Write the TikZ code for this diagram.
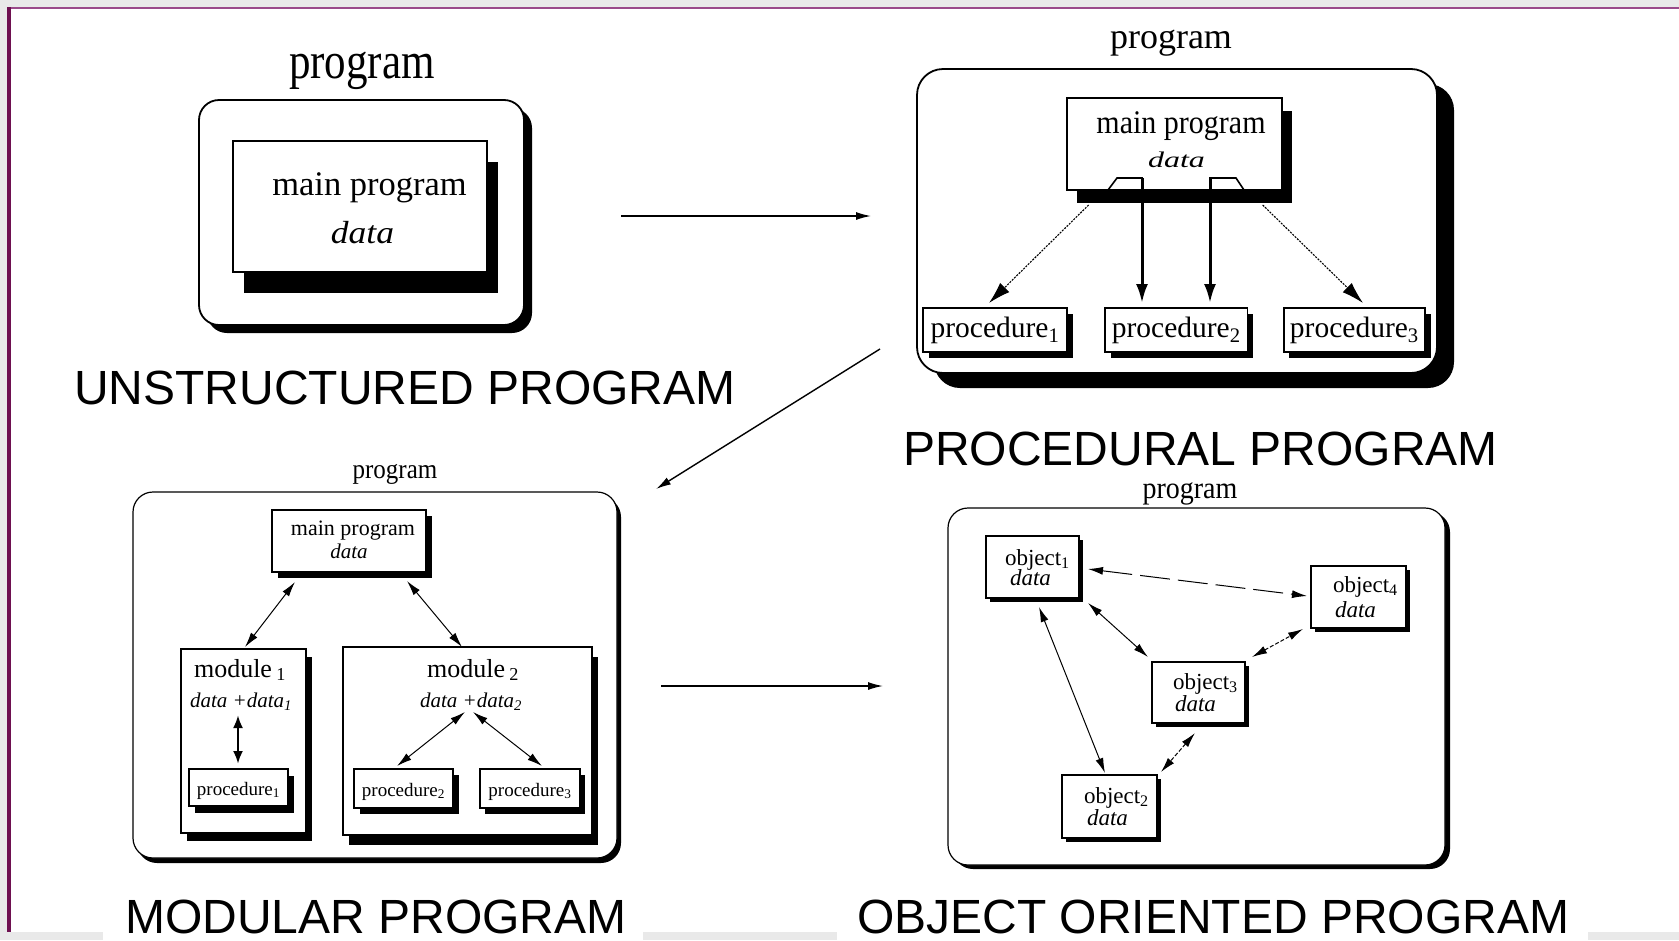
\documentclass[tikz,border=0pt]{standalone}
\usepackage{fontspec}
\setmainfont{Liberation Serif}
\newfontfamily\labelfont{Liberation Sans}
\usetikzlibrary{arrows.meta,shadows}
\newcommand\vst[2]{\scalebox{1}[#1]{#2}}
\definecolor{bggray}{HTML}{E9E9E9}
\definecolor{toppurple}{HTML}{9A4A8A}
\definecolor{leftpurple}{HTML}{6E1050}
\begin{document}
\begin{tikzpicture}[x=1pt,y=-1pt,
  box/.style={draw=black, fill=white, line width=1.8pt, inner sep=0pt, outer sep=0pt},
  thinbox/.style={box, line width=1.2pt},
  shad/.style 2 args={drop shadow={shadow xshift=#1pt, shadow yshift=-#2pt, fill=black, opacity=1}},
  fs/.style={font=\fontsize{#1}{#1}\selectfont},
  txt/.style={inner sep=0pt, outer sep=0pt, anchor=base},
  txtl/.style={inner sep=0pt, outer sep=0pt, anchor=base west},
  big/.style={font=\labelfont\fontsize{48}{48}\selectfont, inner sep=0pt, anchor=base west},
  link/.style={line width=1.4pt, -{Latex[length=15pt,width=8pt]}},
  diag/.style={line width=1.1pt, dash pattern=on 2pt off 1.2pt, -{Latex[length=22pt,width=13pt]}},
  vert/.style={line width=3pt, -{Latex[length=19pt,width=12pt]}},
  dbl/.style={line width=1pt, {Latex[length=15pt,width=8pt]}-{Latex[length=15pt,width=8pt]}},
  dbldash/.style={dbl, dash pattern=on 4pt off 2pt},
  dbllong/.style={dbl, dash pattern=on 30pt off 8pt},
  thickdbl/.style={line width=2.6pt, {Latex[length=13pt,width=10pt]}-{Latex[length=13pt,width=10pt]}},
]
% ---------- page frame ----------
\useasboundingbox (0,0) rectangle (1679,940);
\fill[bggray] (0,0) rectangle (1679,940);
\fill[white] (11,9) rectangle (1679,932);
\fill[white] (103,932) rectangle (643,940);
\fill[white] (837,932) rectangle (1588,940);
\fill[toppurple] (7,7) rectangle (1679,9);
\fill[leftpurple] (7,7) rectangle (11,932);

% ---------- panel 1: unstructured ----------
\node[box, rounded corners=20pt, minimum width=325pt, minimum height=225pt, shad={8}{8}] (p1out) at (361.5,212.5) {};
\node[box, minimum width=254pt, minimum height=131pt, shad={11}{21}] (p1main) at (360,206.5) {};
\node[txt, fs=43] (p1prog) at (362,78) {\vst{1.2}{program}};
\node[txt, fs=34.5] (p1mt) at (369.5,195) {main program};
\node[txt, fs=35.5] (p1dt) at (362.5,243) {\vst{0.9}{\itshape data}};
\node[big] (lab1) at (74,404) {UNSTRUCTURED PROGRAM};

% ---------- panel 2: procedural ----------
\node[box, rounded corners=26pt, minimum width=520pt, minimum height=304pt, shad={17}{15}] (p2out) at (1177,221) {};
\node[box, minimum width=215pt, minimum height=92pt, shad={10}{13}] (p2main) at (1174.5,144) {};
\draw[line width=1.6pt] (1108,190) -- (1117,178) -- (1142,178) -- (1142,190);
\draw[line width=1.6pt] (1210,190) -- (1210,178) -- (1236,178) -- (1244,190);
\node[box, minimum width=144pt, minimum height=44pt, shad={5.5}{6}] (p2pr1) at (995,330) {};
\node[box, minimum width=142.4pt, minimum height=44pt, shad={5.5}{6}] (p2pr2) at (1176.2,330) {};
\node[box, minimum width=141.3pt, minimum height=44pt, shad={5.5}{6}] (p2pr3) at (1354.35,330) {};
\node[txt, fs=36] (p2prog) at (1171,48) {program};
\node[txt, fs=30] (p2mt) at (1181,133) {\vst{1.1}{main program}};
\node[txt, fs=32] (p2dt) at (1176.5,167) {\vst{0.7}{\itshape data}};
\node[txt, fs=29.5] (p2pt1) at (995,337) {procedure\textsubscript{1}};
\node[txt, fs=29.5] (p2pt2) at (1176.2,337) {procedure\textsubscript{2}};
\node[txt, fs=29.5] (p2pt3) at (1354.35,337) {procedure\textsubscript{3}};
\coordinate (d1s) at (1088.6,205); \coordinate (d1e) at (989,303);
\coordinate (d2s) at (1262.7,205); \coordinate (d2e) at (1363,303);
\coordinate (v1s) at (1142,178); \coordinate (v1e) at (1142,303);
\coordinate (v2s) at (1210,178); \coordinate (v2e) at (1210,303);
\draw[diag] (d1s) -- (d1e);
\draw[diag] (d2s) -- (d2e);
\draw[vert] (v1s) -- (v1e);
\draw[vert] (v2s) -- (v2e);
\node[big] (lab2) at (903,465) {PROCEDURAL PROGRAM};

% ---------- panel 3: modular ----------
\node[thinbox, rounded corners=20pt, minimum width=484pt, minimum height=366pt, shad={4}{5}] (p3out) at (375,675) {};
\node[thinbox, minimum width=154pt, minimum height=62pt, shad={6}{6}] (p3main) at (349,541) {};
\node[thinbox, minimum width=125pt, minimum height=184pt, shad={6}{8}] (mod1) at (243.5,741) {};
\node[thinbox, minimum width=249pt, minimum height=188pt, shad={6}{10}] (mod2) at (467.5,741) {};
\node[thinbox, minimum width=99pt, minimum height=37pt, shad={6}{7}] (p3pr1) at (238.5,787.5) {};
\node[thinbox, minimum width=99pt, minimum height=39pt, shad={6}{6}] (p3pr2) at (403.5,788.5) {};
\node[thinbox, minimum width=100pt, minimum height=39pt, shad={5}{6}] (p3pr3) at (530,788.5) {};
\node[txt, fs=25] (p3prog) at (395,478) {\vst{1.1}{program}};
\node[txt, fs=22] (p3mt) at (353,535) {main program};
\node[txt, fs=21] (p3dt) at (349,558) {\itshape data};
\node[txt, fs=26] (m1t) at (240,677) {module\,\textsubscript{1}};
\node[txt, fs=21] (m1d) at (241,707) {\itshape data +data\textsubscript{1}};
\node[txt, fs=26] (m2t) at (473,677) {module\,\textsubscript{2}};
\node[txt, fs=21] (m2d) at (471,707) {\itshape data +data\textsubscript{2}};
\node[txt, fs=19] (p3pt1) at (238.5,795) {procedure\textsubscript{1}};
\node[txt, fs=19] (p3pt2) at (403.5,796) {procedure\textsubscript{2}};
\node[txt, fs=19] (p3pt3) at (530,796) {procedure\textsubscript{3}};
\coordinate (m1a) at (295,582); \coordinate (m1b) at (245,647);
\coordinate (m2a) at (407,581); \coordinate (m2b) at (462,647);
\coordinate (q1a) at (238,715); \coordinate (q1b) at (238,764);
\coordinate (q2a) at (465,712); \coordinate (q2b) at (397,766);
\coordinate (q3a) at (473,712); \coordinate (q3b) at (542,766);
\draw[dbl] (m1a) -- (m1b);
\draw[dbl] (m2a) -- (m2b);
\draw[thickdbl] (q1a) -- (q1b);
\draw[dbl] (q2a) -- (q2b);
\draw[dbl] (q3a) -- (q3b);
\node[big] (lab3) at (125,933) {MODULAR PROGRAM};

% ---------- panel 4: object oriented ----------
\node[thinbox, rounded corners=20pt, minimum width=497pt, minimum height=357pt, shad={5}{4}] (p4out) at (1196.5,686.5) {};
\node[thinbox, minimum width=93pt, minimum height=62pt, shad={4}{4}] (ob1) at (1032.5,567) {};
\node[thinbox, minimum width=95pt, minimum height=62pt, shad={4}{4}] (ob4) at (1358.5,597) {};
\node[thinbox, minimum width=93pt, minimum height=61pt, shad={4}{4}] (ob3) at (1198.5,692.5) {};
\node[thinbox, minimum width=95pt, minimum height=63pt, shad={4}{4}] (ob2) at (1109.5,806.5) {};
\node[txt, fs=28] (p4prog) at (1190,498) {\vst{1.1}{program}};
\node[txtl, fs=23] (o1t) at (1005,565) {object\textsubscript{1}};
\node[txtl, fs=23] (o1d) at (1010,585) {\itshape data};
\node[txtl, fs=23] (o4t) at (1333,592) {object\textsubscript{4}};
\node[txtl, fs=23] (o4d) at (1335,617) {\itshape data};
\node[txtl, fs=23] (o3t) at (1173,689) {object\textsubscript{3}};
\node[txtl, fs=23] (o3d) at (1175,711) {\itshape data};
\node[txtl, fs=23] (o2t) at (1084,803) {object\textsubscript{2}};
\node[txtl, fs=23] (o2d) at (1087,825) {\itshape data};
\coordinate (e14a) at (1088,569); \coordinate (e14b) at (1307,596);
\coordinate (e13a) at (1088,603); \coordinate (e13b) at (1148,657);
\coordinate (e12a) at (1039,607); \coordinate (e12b) at (1105,773);
\coordinate (e34a) at (1252,657); \coordinate (e34b) at (1303,629);
\coordinate (e32a) at (1195,733); \coordinate (e32b) at (1161,772);
\draw[dbllong] (e14a) -- (e14b);
\draw[dbl] (e13a) -- (e13b);
\draw[dbl] (e12a) -- (e12b);
\draw[dbldash] (e34a) -- (e34b);
\draw[dbldash] (e32a) -- (e32b);
\node[big] (lab4) at (857,933) {OBJECT ORIENTED PROGRAM};

% ---------- arrows between panels ----------
\coordinate (a1s) at (621,216); \coordinate (a1e) at (871,216);
\coordinate (a2s) at (880,349); \coordinate (a2e) at (656,489);
\coordinate (a3s) at (661,686); \coordinate (a3e) at (883,686);
\draw[link] (a1s) -- (a1e);
\draw[link] (a2s) -- (a2e);
\draw[link] (a3s) -- (a3e);
\end{tikzpicture}
\end{document}
